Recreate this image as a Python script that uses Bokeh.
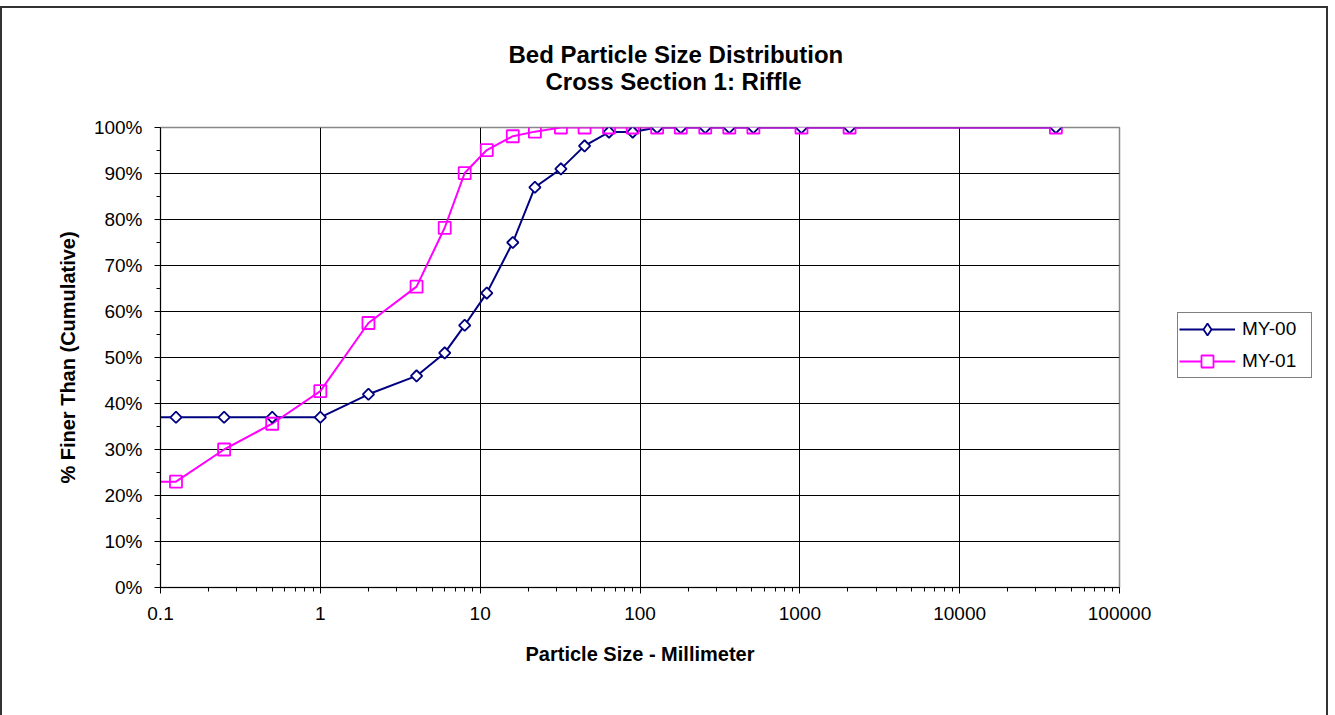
from bokeh.plotting import figure
from bokeh.layouts import row
from bokeh.models import (Title, Legend, LegendItem, FixedTicker, PrintfTickFormatter,
                          CustomJSTickFormatter, ColumnDataSource)
from bokeh.embed import file_html
from bokeh.resources import INLINE
import math

# ---- data ----
sizes_mm = [0.062, 0.125, 0.25, 0.5, 1, 2, 4, 6, 8, 11, 16, 22, 32, 45, 64, 90,
            128, 180, 256, 362, 512, 1024, 2048, 40000]
my00 = [37, 37, 37, 37, 37, 42, 46, 51, 57, 64, 75, 87, 91, 96, 99, 99,
        100, 100, 100, 100, 100, 100, 100, 100]
my01 = [23, 23, 30, 35.6, 42.7, 57.5, 65.4, 78.2, 90.1, 95.1, 98.1, 99.1, 100, 100, 100, 100,
        100, 100, 100, 100, 100, 100, 100, 100]
series_names = ["MY-00", "MY-01"]
title_lines = ["Bed Particle Size Distribution", "Cross Section 1: Riffle"]
x_major_ticks = [0.1, 1, 10, 100, 1000, 10000, 100000]
y_major_ticks = [0, 10, 20, 30, 40, 50, 60, 70, 80, 90, 100]

FONT = "Liberation Sans"
NAVY = "#000080"
MAGENTA = "#FF00FF"

src = ColumnDataSource(dict(x=sizes_mm, a=my00, b=my01))

p = figure(width=1158, height=707, x_axis_type="log", x_range=(0.1, 100000), y_range=(0, 100),
           output_backend="svg", toolbar_location=None,
           min_border_left=158, min_border_right=41, min_border_top=119, min_border_bottom=128)

# titles: the added Title sits next to the frame (line 2), p.title outside it (line 1)
p.title.text = title_lines[0]
inner = Title(text=title_lines[1])
for t in (p.title, inner):
    t.text_font = FONT
    t.text_font_size = "24px"
    t.text_font_style = "bold"
    t.text_color = "black"
    t.align = "left"
    t.vertical_align = "bottom"
p.title.offset = 348
inner.offset = 385
inner.standoff = 66
p.title.standoff = -70
p.add_layout(inner, "above")

p.background_fill_color = "white"
p.border_fill_color = "white"
p.outline_line_color = "#888888"
p.outline_line_width = 1.5

# grid
p.xgrid.grid_line_color = "black"
p.ygrid.grid_line_color = "black"
p.xgrid.grid_line_width = 1
p.ygrid.grid_line_width = 1

minor_x = [m * 10.0 ** k for k in range(-1, 5) for m in range(2, 10)]
p.xaxis.ticker = FixedTicker(ticks=x_major_ticks, minor_ticks=minor_x)
p.yaxis.ticker = FixedTicker(ticks=y_major_ticks, minor_ticks=[t + 5 for t in y_major_ticks[:-1]])
p.xaxis.formatter = CustomJSTickFormatter(code="return String(tick);")
p.yaxis.formatter = PrintfTickFormatter(format="%d%%")

for ax in (p.xaxis[0], p.yaxis[0]):
    ax.axis_line_color = "black"
    ax.axis_line_width = 1
    ax.major_tick_line_color = "black"
    ax.minor_tick_line_color = "black"
    ax.major_tick_out = 6
    ax.major_tick_in = 0
    ax.minor_tick_out = 4
    ax.minor_tick_in = 0
    ax.major_label_text_font = FONT
    ax.major_label_text_font_size = "19px"
    ax.major_label_text_color = "black"
    ax.axis_label_text_font = FONT
    ax.axis_label_text_font_size = "20px"
    ax.axis_label_text_font_style = "bold"
    ax.axis_label_text_color = "black"

p.xaxis.axis_label = "Particle Size - Millimeter"
p.yaxis.axis_label = "% Finer Than (Cumulative)"
p.xaxis.major_label_standoff = 13
p.yaxis.major_label_standoff = 12
p.xaxis.axis_label_standoff = 20
p.yaxis.axis_label_standoff = 12

line_styles = [dict(line_color=NAVY, line_width=2), dict(line_color=MAGENTA, line_width=2)]
marker_styles = [dict(marker="square", angle=math.pi / 4, size=8, line_color=NAVY,
                      line_width=1.8, fill_color="white"),
                 dict(marker="square", size=12, line_color=MAGENTA, line_width=1.8, fill_alpha=0)]
legend_marker_styles = [dict(marker="diamond", size=14, line_color=NAVY,
                             line_width=1.8, fill_color="white"),
                        dict(marker="square", size=12, line_color=MAGENTA, line_width=1.8,
                             fill_color="white")]
cols = ["a", "b"]

# lines first, then markers
for c, ls in zip(cols, line_styles):
    p.line("x", c, source=src, **ls)
for c, ms in zip(cols, marker_styles):
    p.scatter("x", c, source=src, **ms)

# legend panel (separate small figure so the legend can sit right of the plot area);
# its renderers use the same data, which lies outside this panel's ranges
lf = figure(width=166, height=707, x_range=(0, 1), y_range=(0, 1), output_backend="svg",
            toolbar_location=None, x_axis_location=None, y_axis_location=None,
            min_border_left=0, min_border_right=0, min_border_top=0, min_border_bottom=0)
lf.outline_line_color = None
lf.grid.visible = False
lf.background_fill_color = "white"
lf.border_fill_color = "white"
items = []
for name, c, ls, ms in zip(series_names, cols, line_styles, legend_marker_styles):
    r1 = lf.line("x", c, source=src, **ls)
    r2 = lf.scatter("x", c, source=src, **ms)
    items.append(LegendItem(label=name, renderers=[r1, r2]))

legend = Legend(items=items, location=(17, 209))
legend.label_text_font = FONT
legend.label_text_font_size = "19px"
legend.label_text_color = "black"
legend.border_line_color = "black"
legend.border_line_width = 1
legend.glyph_width = 56
legend.glyph_height = 30
legend.label_height = 20
legend.label_width = 68
legend.spacing = 2
legend.padding = 1
legend.margin = 0
legend.label_standoff = 7
legend.background_fill_color = "white"
lf.add_layout(legend, "center")

layout = row(p, lf)
layout.styles = {"margin-top": "6px",
                 "border-top": "2px solid #333333", "border-left": "2px solid #333333",
                 "border-right": "2px solid #333333"}

open("out.html", "w").write(file_html(layout, INLINE))
